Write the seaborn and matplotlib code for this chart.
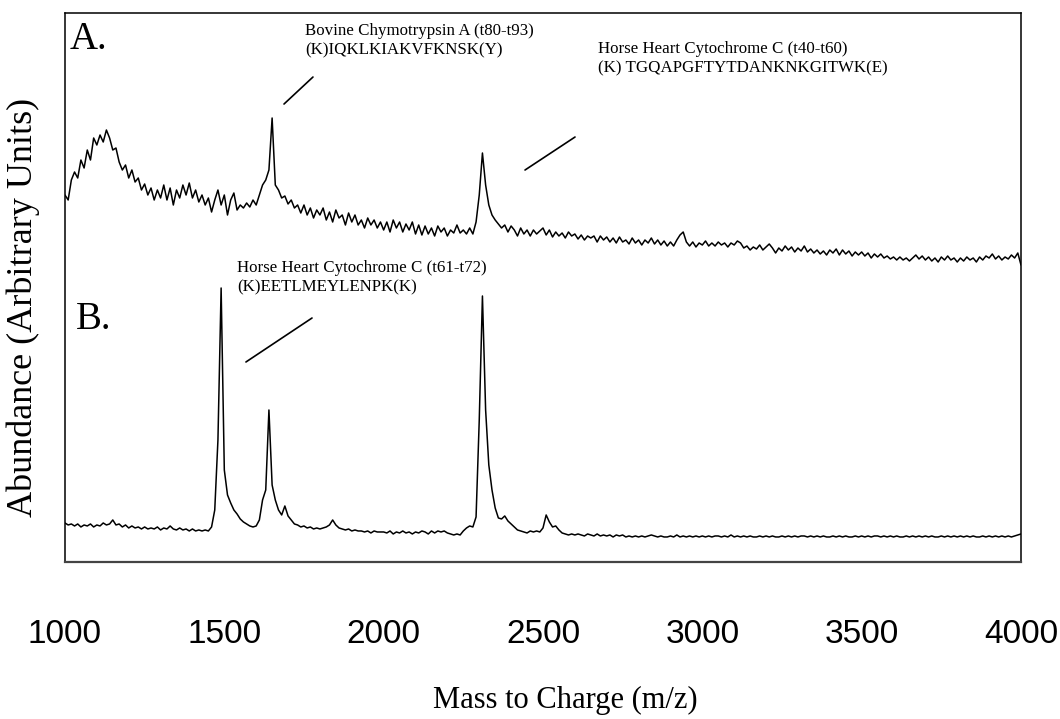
import numpy as np
import pandas as pd
import matplotlib
matplotlib.use("Agg")
import matplotlib.pyplot as plt
import seaborn as sns
from matplotlib import font_manager

# m/z grid (10 Da steps) and the two spectra
mz = np.arange(1000, 4001, 10)

spectrum_a = [
    367, 362, 382, 390, 384, 402, 394, 412, 402, 424, 417, 427, 420, 432, 424, 412, 414, 400, 392, 397,
    384, 392, 380, 384, 372, 378, 367, 374, 362, 372, 364, 377, 362, 374, 357, 372, 364, 377, 367, 379,
    364, 372, 360, 367, 357, 364, 350, 362, 372, 357, 367, 347, 362, 369, 352, 357, 354, 359, 355, 362,
    357, 367, 377, 382, 392, 444, 377, 372, 364, 366, 358, 362, 354, 357, 349, 357, 347, 354, 344, 352,
    347, 354, 342, 350, 340, 352, 344, 347, 337, 349, 340, 347, 337, 342, 334, 344, 337, 342, 334, 340,
    332, 340, 330, 342, 334, 340, 330, 338, 332, 340, 328, 337, 327, 336, 328, 334, 326, 336, 330, 334,
    326, 332, 329, 337, 329, 332, 328, 334, 328, 340, 367, 409, 377, 357, 347, 342, 338, 334, 337, 330,
    336, 332, 326, 334, 328, 332, 326, 332, 328, 331, 334, 327, 332, 325, 330, 326, 329, 324, 330, 326,
    328, 323, 327, 322, 326, 324, 326, 320, 326, 322, 325, 320, 324, 319, 325, 320, 322, 318, 324, 319,
    322, 317, 322, 319, 324, 318, 322, 317, 321, 316, 320, 316, 322, 327, 330, 320, 316, 320, 315, 319,
    317, 321, 316, 319, 316, 320, 317, 319, 315, 319, 317, 321, 319, 314, 316, 312, 315, 313, 317, 312,
    315, 318, 314, 309, 314, 311, 316, 312, 315, 310, 314, 311, 316, 310, 313, 309, 312, 308, 311, 307,
    312, 309, 313, 307, 312, 308, 311, 306, 310, 307, 310, 306, 309, 304, 308, 305, 308, 304, 306, 303,
    305, 302, 305, 302, 304, 301, 304, 307, 303, 306, 302, 305, 301, 304, 300, 305, 302, 306, 302, 304,
    300, 304, 301, 305, 302, 304, 300, 305, 302, 306, 304, 308, 303, 306, 302, 305, 303, 307, 304, 309,
    297,
]

spectrum_b = [
    39, 37, 38, 36, 38, 35, 37, 36, 38, 35, 37, 36, 39, 37, 38, 42, 37, 38, 35, 37,
    34, 36, 34, 35, 33, 35, 33, 34, 33, 35, 32, 34, 33, 36, 33, 32, 34, 32, 33, 31,
    33, 31, 32, 31, 32, 31, 35, 52, 122, 274, 92, 67, 59, 52, 48, 43, 40, 38, 36, 35,
    36, 42, 62, 72, 152, 77, 62, 52, 47, 56, 46, 42, 38, 37, 35, 36, 34, 35, 33, 34,
    33, 34, 35, 37, 42, 37, 34, 33, 32, 33, 31, 32, 31, 31, 30, 31, 29, 31, 30, 30,
    30, 29, 31, 28, 30, 29, 31, 29, 30, 28, 30, 29, 31, 30, 28, 31, 29, 31, 30, 31,
    29, 28, 27, 28, 27, 31, 34, 36, 35, 45, 142, 266, 152, 97, 72, 54, 44, 43, 46, 41,
    38, 35, 32, 31, 30, 29, 31, 30, 31, 30, 34, 47, 40, 35, 36, 32, 29, 28, 27, 28,
    27, 28, 27, 26, 28, 27, 26, 28, 26, 27, 26, 27, 25, 27, 26, 27, 25, 26, 25, 26,
    25, 26, 25, 26, 27, 26, 25, 26, 25, 25, 26, 25, 27, 25, 26, 25, 26, 25, 26, 25,
    26, 25, 26, 25, 26, 26, 25, 26, 25, 27, 25, 26, 25, 26, 25, 26, 25, 25, 26, 25,
    26, 25, 26, 25, 25, 26, 25, 26, 25, 26, 25, 26, 26, 25, 26, 25, 26, 25, 26, 25,
    25, 26, 25, 26, 25, 26, 25, 25, 26, 25, 26, 25, 26, 25, 26, 26, 25, 26, 25, 26,
    25, 26, 25, 25, 26, 25, 26, 25, 26, 25, 26, 25, 26, 25, 25, 26, 25, 26, 25, 26,
    25, 26, 25, 26, 25, 26, 25, 25, 26, 25, 26, 25, 26, 25, 26, 25, 26, 25, 26, 27,
    28,
]

tick_values = [1000, 1500, 2000, 2500, 3000, 3500, 4000]
panel_labels = ["A.", "B."]
peak_notes = [
    "Bovine Chymotrypsin A (t80-t93)\n(K)IQKLKIAKVFKNSK(Y)",
    "Horse Heart Cytochrome C (t40-t60)\n(K) TGQAPGFTYTDANKNKGITWK(E)",
    "Horse Heart Cytochrome C (t61-t72)\n(K)EETLMEYLENPK(K)",
]

df = pd.DataFrame({
    "mz": np.concatenate([mz, mz]),
    "abundance": spectrum_a + spectrum_b,
    "trace": ["A"] * len(mz) + ["B"] * len(mz),
})

sns.set_style("white")
plt.rcParams["font.family"] = ["Liberation Serif", "DejaVu Serif"]
plt.rcParams["text.color"] = "black"
plt.rcParams["axes.labelcolor"] = "black"
plt.rcParams["xtick.color"] = "black"

names = {f.name for f in font_manager.fontManager.ttflist}
if "Liberation Sans Narrow" in names:
    tick_font, tick_size = "Liberation Sans Narrow", 28
else:
    tick_font, tick_size = "Liberation Sans", 24

fig = plt.figure(figsize=(10.6, 7.19), dpi=100)
ax = fig.add_axes([0.0613, 0.2184, 0.9019, 0.7635])

sns.lineplot(data=df, x="mz", y="abundance", units="trace", estimator=None,
             sort=False, color="black", linewidth=1.1, ax=ax, legend=False)

ax.set_xlim(1000, 4000)
ax.set_ylim(0, 549)
ax.set_yticks([])
ax.set_xticks(tick_values)
ax.set_xticklabels([str(v) for v in tick_values], fontfamily=tick_font, fontsize=tick_size,
                   color="black")
ax.tick_params(axis="x", direction="out", length=8, width=0.8, color="#999999", pad=33)

for side in ["top", "right", "left", "bottom"]:
    ax.spines[side].set_visible(True)
    ax.spines[side].set_color("black")
    ax.spines[side].set_linewidth(1.1)
ax.spines["bottom"].set_color("#444444")
ax.spines["bottom"].set_linewidth(1.6)

ax.set_xlabel("Mass to Charge (m/z)", fontsize=22)
ax.xaxis.set_label_coords(0.523, -0.253)
ax.xaxis.label.set_va("center")
ax.set_ylabel("Abundance (Arbitrary Units)", fontsize=26)
ax.yaxis.set_label_coords(-0.044, 0.464)
ax.yaxis.label.set_va("center")

# panel letters
ax.text(0.005, 0.952, panel_labels[0], transform=ax.transAxes, fontsize=28, va="center", ha="left")
ax.text(0.0115, 0.442, panel_labels[1], transform=ax.transAxes, fontsize=28, va="center", ha="left")

# peak annotations with pointer lines
note_pos = [(0.251, 0.950), (0.5575, 0.9171), (0.1799, 0.5173)]
pointers = [((0.2291, 0.8342), (0.2594, 0.8834)),
            ((0.4812, 0.7140), (0.5335, 0.7741)),
            ((0.1893, 0.3643), (0.2584, 0.4444))]
for note, (tx, ty), (p0, p1) in zip(peak_notes, note_pos, pointers):
    ax.text(tx, ty, note, transform=ax.transAxes, fontsize=12.2, va="center", ha="left",
            linespacing=1.3)
    ax.plot([p0[0], p1[0]], [p0[1], p1[1]], transform=ax.transAxes, color="black", linewidth=1.2)

fig.savefig("out.png", dpi=100, facecolor="white")
